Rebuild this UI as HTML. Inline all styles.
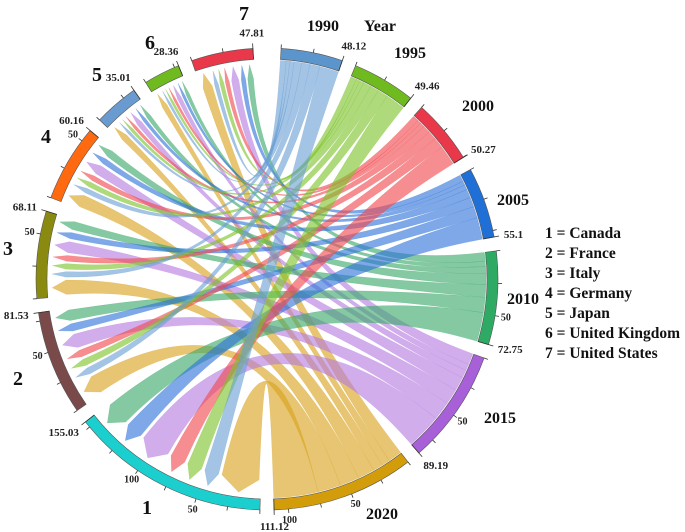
<!DOCTYPE html>
<html><head><meta charset="utf-8">
<style>
html,body{margin:0;padding:0;background:#fff;}
svg{display:block;font-family:"Liberation Serif",serif;font-weight:bold;}
</style></head>
<body>
<svg id="chart" width="685" height="532" viewBox="0 0 685 532" xmlns="http://www.w3.org/2000/svg">
<g id="ribbons"></g>
<g id="arcs"></g>
<g id="labels"></g>
<g font-size="15.5" fill="#111">
<text x="545" y="238">1 = Canada</text>
<text x="545" y="258">2 = France</text>
<text x="545" y="278">3 = Italy</text>
<text x="545" y="298">4 = Germany</text>
<text x="545" y="318">5 = Japan</text>
<text x="545" y="338">6 = United Kingdom</text>
<text x="545" y="358">7 = United States</text>
</g>
</svg>
<script>
const years = ["1990","1995","2000","2005","2010","2015","2020"];
const countries = ["1","2","3","4","5","6","7"];
// value of year -> country flow, rows = years, cols = countries 1..7
const v1990 = [15.7, 8.2, 6.9, 6.1, 3.5, 2.9, 4.82];
const v1995 = [16.1, 8.5, 7.1, 6.3, 3.6, 2.9, 4.96];
const v2000 = [16.4, 8.6, 7.2, 6.4, 3.7, 3.0, 4.97];
const v2005 = [17.9, 9.4, 7.9, 7.0, 4.1, 3.3, 5.5];
const v2010 = [23.7, 12.5, 10.4, 9.2, 5.4, 4.3, 7.25];
const v2015 = [29.0, 15.3, 12.8, 11.3, 6.6, 5.3, 9.19];
const v2020 = [36.23, 19.03, 15.81, 13.86, 8.11, 6.66, 11.42];
const yearTotals = ["48.12","49.46","50.27","55.1","72.75","89.19","111.12"];
const countryTotals = ["155.03","81.53","68.11","60.16","35.01","28.36","47.81"];

const matrix=[v1990,v1995,v2000,v2005,v2010,v2015,v2020];
const yearColors=["#5b95cc","#6fba1f","#e8384a","#1f6fd6","#2eaa64","#a860d8","#d39c0b"];
const ribbonColors=["#6a9fd4","#7cc42a","#f0484e","#2f73d9","#3aa86b","#b57be0","#d9a21c"];
const countryColors=["#1ccfcf","#7a4a4a","#8a8a10","#ff6a10","#6a9bd0","#6fba1f","#e8384a"];
const cx=267, cy=279, R=231, RB=220, RI=219, RE=201, RT=215;
const NS="http://www.w3.org/2000/svg";
const rad=d=>d*Math.PI/180;
const P=(a,r)=>[cx+r*Math.sin(rad(a)), cy-r*Math.cos(rad(a))];
const pt=(a,r)=>{const p=P(a,r);return p[0].toFixed(2)+","+p[1].toFixed(2);};

const yt=matrix.map(r=>r.reduce((s,x)=>s+x,0));
const ct=countries.map((c,j)=>matrix.reduce((s,r)=>s+r[j],0));
const total=yt.reduce((a,b)=>a+b,0)+ct.reduce((a,b)=>a+b,0);
const gap=3.5, lastGap=7, start=3.5;
const scale=(360-13*gap-lastGap)/total;
const yA=[],cA=[];
let a=start;
yt.forEach(t=>{yA.push([a,a+t*scale]);a+=t*scale+gap;});
ct.forEach(t=>{cA.push([a,a+t*scale]);a+=t*scale+gap;});

function mk(tag,attrs,parent){const e=document.createElementNS(NS,tag);for(const k in attrs)e.setAttribute(k,attrs[k]);parent.appendChild(e);return e;}

const yearPos=matrix.map(()=>({}));
yA.forEach((seg,i)=>{let s=seg[0];for(let j=6;j>=0;j--){const w=matrix[i][j]*scale;yearPos[i][j]=[s,s+w];s+=w;}});
const cOrder=[6,0,1,2,5,3,4];
const cPos=countries.map(()=>({}));
cA.forEach((seg,j)=>{let s=seg[0];cOrder.forEach(i=>{const w=matrix[i][j]*scale;cPos[j][i]=[s,s+w];s+=w;});});

const rg=document.getElementById('ribbons');
const drawOrder=[6,5,4,3,2,1,0];
drawOrder.forEach(i=>{
  for(let j=0;j<7;j++){
    const [a0,a1]=yearPos[i][j];let [b0,b1]=cPos[j][i];
    const pad=Math.min(0.5,(b1-b0)*0.15);b0+=pad;b1-=pad;
    const bm=(b0+b1)/2;
    const d="M"+pt(a0,RI)+" A"+RI+","+RI+" 0 0 1 "+pt(a1,RI)+
      " Q"+cx+","+cy+" "+pt(b0,RE)+" L"+pt(bm,RT)+" L"+pt(b1,RE)+
      " Q"+cx+","+cy+" "+pt(a0,RI)+"Z";
    const p=mk('path',{d:d,fill:ribbonColors[i],'fill-opacity':0.62,stroke:ribbonColors[i],'stroke-opacity':0.35,'stroke-width':0.5},rg);
    
    
  }
});

const ag=document.getElementById('arcs');
const lg=document.getElementById('labels');
function band(seg,color,name,labelEnd){
  const [s,e]=seg;const large=(e-s)>180?1:0;
  const d="M"+pt(s,R)+" A"+R+","+R+" 0 "+large+" 1 "+pt(e,R)+" L"+pt(e,RB)+" A"+RB+","+RB+" 0 "+large+" 0 "+pt(s,RB)+"Z";
  const p=mk('path',{d:d,fill:color,stroke:'#555','stroke-width':0.6},ag);
  
  
  const t=(e-s)/scale;
  for(let v=0;v<=t+0.001;v+=25){
    const aa=s+v*scale;
    mk('line',{x1:P(aa,R)[0],y1:P(aa,R)[1],x2:P(aa,R+4)[0],y2:P(aa,R+4)[1],stroke:'#333','stroke-width':0.8},ag);
    if(v>0 && v%50===0 && t-v>6){
      const q=P(aa,R+11);
      const tx=mk('text',{x:q[0],y:q[1]+3,'font-size':10,'text-anchor':'middle',fill:'#222'},lg);
      tx.textContent=String(v);
      
      
    }
  }
  mk('line',{x1:P(e,R-11)[0],y1:P(e,R-11)[1],x2:P(e,R+5)[0],y2:P(e,R+5)[1],stroke:'#333','stroke-width':0.8},ag);
  const q=P(e,R+16);
  const anchor=q[0]<cx-30?'end':(q[0]>cx+30?'start':'middle');
  const tx=mk('text',{x:q[0]+(anchor==='end'?6:(anchor==='start'?-6:0)),y:q[1]+4,'font-size':11,'text-anchor':anchor,fill:'#222'},lg);
  tx.textContent=labelEnd;
  
  
}
yA.forEach((s,i)=>band(s,yearColors[i],'year-'+years[i],yearTotals[i]));
cA.forEach((s,j)=>band(s,countryColors[j],'country-'+countries[j],countryTotals[j]));

const yearNamePos=[[323,31],[410,58],[478,111],[513,205],[523,304],[500,423],[382,519]];
years.forEach((y,i)=>{
  const t=mk('text',{x:yearNamePos[i][0],y:yearNamePos[i][1],'font-size':16,'text-anchor':'middle',fill:'#111'},lg);
  t.textContent=y;
  
  
});
const yl=mk('text',{x:380,y:31,'font-size':16,'text-anchor':'middle',fill:'#111'},lg);
yl.textContent='Year';


const cNamePos=[[147,514],[18,385],[8,255],[46,143],[97,81],[150,49],[244,20]];
countries.forEach((c,j)=>{
  const t=mk('text',{x:cNamePos[j][0],y:cNamePos[j][1],'font-size':20,'text-anchor':'middle',fill:'#111'},lg);
  t.textContent=c;
  
  
});
</script>
</body></html>
